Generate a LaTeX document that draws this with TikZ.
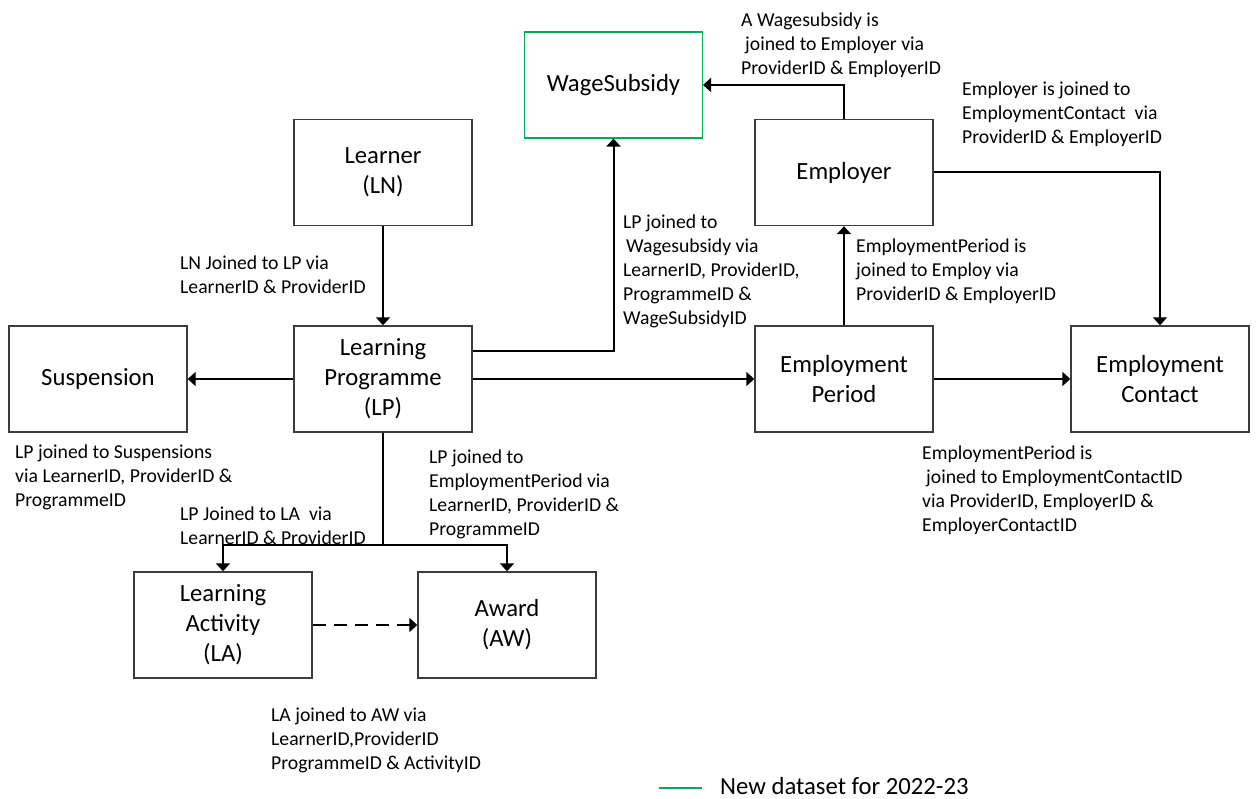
\documentclass[tikz,border=0pt]{standalone}
\usepackage{fontspec}
\setmainfont{Carlito}
\usetikzlibrary{arrows.meta}
\definecolor{newgreen}{RGB}{0,176,80}
\definecolor{boxline}{RGB}{60,60,60}
\begin{document}
\begin{tikzpicture}[x=1pt,y=-1pt,
  entity/.style={draw=boxline, line width=1.4pt, minimum width=178pt, minimum height=106pt, inner sep=0pt, align=center, font=\fontsize{24.7}{30}\selectfont},
  newentity/.style={entity, draw=newgreen, line width=1.1pt},
  lbl/.style={anchor=north west, inner sep=0pt, align=left, font=\fontsize{19.7}{24}\selectfont},
  conn/.style={line width=2pt, -{Triangle[width=14pt,length=8pt]}},
  plain/.style={line width=2pt},
]
\useasboundingbox (0,0) rectangle (1256,799);

% boxes
\node[newentity] (ws) at (613.5,85) {WageSubsidy};
\node[entity] (ln) at (383,172.5) {Learner\\(LN)};
\node[entity] (lp) at (383,379) {Learning\\Programme\\(LP)};
\node[entity] (susp) at (98,379) {Suspension};
\node[entity] (emp) at (844,172.5) {Employer};
\node[entity] (ep) at (844,379) {Employment\\Period};
\node[entity] (ec) at (1160,379) {Employment\\Contact};
\node[entity] (la) at (223,625) {Learning\\Activity\\(LA)};
\node[entity] (aw) at (507,625) {Award\\(AW)};

% connectors
\draw[conn] (ln) -- (lp);
\draw[conn] (lp) -- (susp);
\draw[conn] (lp) -- (ep);
\draw[conn] (ep) -- (ec);
\draw[conn] (ep) -- (emp);
\draw[conn] ([yshift=-26pt]lp.north east) -| (ws.south);
\draw[conn] (emp.north) |- (ws.east);
\draw[conn] (emp.east) -| (ec.north);
\coordinate (split) at (383,545);
\draw[plain] (lp.south) -- (split);
\draw[conn] (split) -| (la.north);
\draw[conn] (split) -| (aw.north);
\draw[conn, dash pattern=on 13pt off 8pt] (la) -- (aw);

% labels
\node[lbl] (l1) at (741,13) {A Wagesubsidy is\\\hspace{4pt}joined to Employer via\\ProviderID \& EmployerID};
\node[lbl] (l2) at (962,82) {Employer is joined to\\EmploymentContact\ \ via\\ProviderID \& EmployerID};
\node[lbl] (l3) at (180,256) {LN Joined to LP via\\LearnerID \& ProviderID};
\node[lbl] (l4) at (623,215) {LP joined to\\\hspace{3pt}Wagesubsidy via\\LearnerID, ProviderID,\\ProgrammeID \&\\WageSubsidyID};
\node[lbl] (l5) at (856,239) {EmploymentPeriod is\\joined to Employ via\\ProviderID \& EmployerID};
\node[lbl] (l6) at (15,445) {LP joined to Suspensions\\via LearnerID, ProviderID \&\\ProgrammeID};
\node[lbl] (l7) at (180,507) {LP Joined to LA\ \ via\\LearnerID \& ProviderID};
\node[lbl] (l8) at (429,450) {LP joined to\\EmploymentPeriod via\\LearnerID, ProviderID \&\\ProgrammeID};
\node[lbl] (l9) at (271,708) {LA joined to AW via\\LearnerID,ProviderID\\ProgrammeID \& ActivityID};
\node[lbl] (l10) at (922,446) {EmploymentPeriod is\\\hspace{4pt}joined to EmploymentContactID\\via ProviderID, EmployerID \&\\EmployerContactID};

% legend
\coordinate (lg1) at (659,788);
\coordinate (lg2) at (702,788);
\draw[newgreen, line width=1.5pt] (lg1) -- (lg2);
\node[anchor=west, inner sep=0pt, font=\fontsize{24.7}{30}\selectfont] (legend) at (720,786) {New dataset for 2022-23};
\end{tikzpicture}
\end{document}
